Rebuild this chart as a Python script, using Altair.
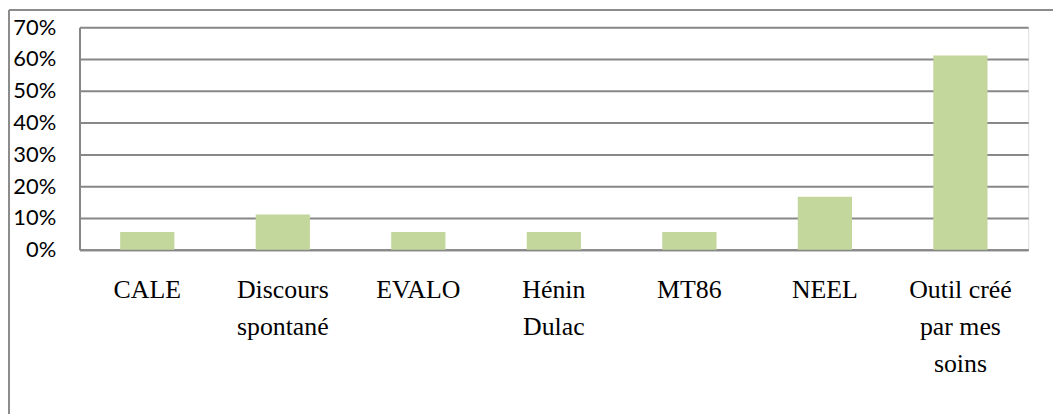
import altair as alt
import pandas as pd
import json

categories = ["CALE", "Discours spontané", "EVALO", "Hénin Dulac", "MT86", "NEEL", "Outil créé par mes soins"]
label_lines = [["CALE"], ["Discours", "spontané"], ["EVALO"], ["Hénin", "Dulac"], ["MT86"], ["NEEL"], ["Outil créé", "par mes", "soins"]]
values = [0.056, 0.111, 0.056, 0.056, 0.056, 0.167, 0.611]
y_ticks = [0, 0.1, 0.2, 0.3, 0.4, 0.5, 0.6, 0.7]

df = pd.DataFrame({"cat": categories, "val": values})
lab_map = json.dumps(dict(zip(categories, label_lines)), ensure_ascii=False)

W, H = 955, 224
GRID = "#878787"

bars = alt.Chart(df).mark_bar(color="#C3D69B").encode(
    x=alt.X("cat:N", sort=categories, title=None,
            scale=alt.Scale(paddingInner=0.6, paddingOuter=0.3),
            axis=alt.Axis(labelAngle=0, labelFont="Liberation Serif", labelFontSize=26,
                          labelColor="black", labelPadding=27, labelLineHeight=37.5,
                          labelExpr=f"{lab_map}[datum.value]", ticks=False,
                          domainColor=GRID, domainWidth=2, labelLimit=300)),
    y=alt.Y("val:Q", title=None,
            scale=alt.Scale(domain=[0, 0.7], nice=False),
            axis=alt.Axis(values=y_ticks, format=".0%", ticks=False, grid=True,
                          gridColor=GRID, gridWidth=2, domainColor=GRID, domainWidth=2,
                          labelFont="Lato", labelFontSize=22, labelColor="black",
                          labelPadding=24)),
)

border_top = alt.Chart(df).mark_rule(color="#8c8c8c", strokeWidth=1.5, clip=False).encode(
    x=alt.value(-71), x2=alt.value(W + 25), y=alt.value(-17))
border_left = alt.Chart(df).mark_rule(color="#8c8c8c", strokeWidth=1.5, clip=False).encode(
    x=alt.value(-71), y=alt.value(-17), y2=alt.value(H + 165))

chart = alt.layer(bars, border_top, border_left).properties(
    width=W, height=H,
    padding=0,
).configure_view(stroke=None).configure(background="white")

chart.save("out.html", embed_options={"renderer": "svg", "actions": False})
